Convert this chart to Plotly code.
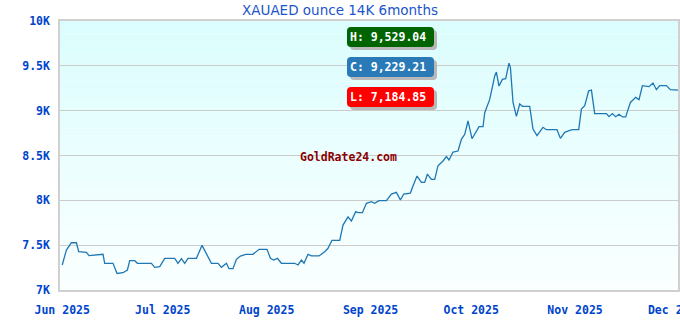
import plotly.graph_objects as go
import pandas as pd

# ---- data (day offsets from 2025-06-01, price AED) ----
days = [0.0, 1.25, 2.74, 4.24, 4.92, 7.22, 8.0, 12.17, 12.68, 15.16, 16.35, 18.14,
        19.45, 20.14, 21.63, 22.43, 26.61, 27.6, 29.09, 30.58, 33.56, 34.55, 35.56,
        36.55, 37.53, 40.04, 41.71, 44.51, 46.48, 47.49, 48.99, 49.76, 50.95, 51.97,
        53.16, 54.74, 56.92, 58.71, 61.1, 62.11, 63.1, 64.2, 65.39, 69.36, 70.35,
        71.36, 72.14, 73.33, 74.34, 76.61, 78.31, 79.3, 80.49, 82.79, 83.77, 85.26,
        86.28, 87.56, 88.25, 89.56, 90.75, 92.24, 93.23, 94.51, 96.72, 98.21, 99.7,
        100.89, 101.88, 103.88, 104.65, 105.85, 107.16, 108.14, 108.95, 110.14,
        111.13, 112.11, 113.6, 114.62, 115.39, 116.59, 118.08, 119.09, 120.08,
        121.06, 122.26, 123.57, 124.35, 125.54, 126.05, 127.54, 129.03, 129.53,
        130.31, 131.32, 132.31, 133.29, 133.71, 134.49, 135.5, 136.49, 137.29,
        139.47, 140.45, 141.65, 143.44, 144.45, 147.61, 148.63, 149.91, 151.19,
        152.21, 154.09, 154.89, 155.88, 157.07, 157.88, 158.86, 162.35, 163.13,
        164.14, 165.13, 166.11, 167.13, 168.11, 169.51, 171.09, 172.08, 173.09,
        175.06, 176.25, 177.27, 178.25, 180.25, 181.44, 182.43, 183.71]
values = [7279, 7446, 7527, 7527, 7427, 7420, 7383, 7398, 7298, 7298, 7184.85, 7193,
          7223, 7327, 7327, 7298, 7298, 7253, 7260, 7353, 7353, 7298, 7350,
          7298, 7353, 7353, 7498, 7298, 7298, 7253, 7298, 7238, 7238, 7342,
          7379, 7398, 7398, 7454, 7454, 7353, 7334, 7353, 7298, 7298, 7279,
          7334, 7298, 7398, 7380, 7380, 7427, 7465, 7554, 7554, 7724, 7816,
          7770, 7873, 7862, 7862, 7967, 7985, 7967, 7996, 7996, 8070, 8089,
          8003, 8070, 8081, 8159, 8271, 8200, 8200, 8293, 8234,
          8234, 8386, 8439, 8487, 8450, 8539, 8550, 8680, 8736,
          8885, 8687, 8773, 8821, 8821, 8977, 9126, 9387, 9431,
          9275, 9349, 9357, 9529.04, 9483, 9093, 8937, 9074, 9048,
          9048, 8795, 8721, 8814, 8788, 8788, 8691, 8758, 8777,
          8788, 8788, 9018, 9055, 9222, 9230, 8967, 8967, 8933,
          8967, 8933, 8959, 8930, 8930, 9092, 9148, 9122, 9279,
          9268, 9308, 9234, 9279, 9279, 9234, 9234, 9229.21]

high_value = 9529.04
close_value = 9229.21
low_value = 7184.85

y_tickvals = [7000, 7500, 8000, 8500, 9000, 9500, 10000]
y_ticktext = ["7K", "7.5K", "8K", "8.5K", "9K", "9.5K", "10K"]
x_tickvals = ["2025-06-01", "2025-07-01", "2025-08-01", "2025-09-01",
              "2025-10-01", "2025-11-01", "2025-12-01"]
x_ticktext = ["Jun 2025", "Jul 2025", "Aug 2025", "Sep 2025",
              "Oct 2025", "Nov 2025", "Dec 2025"]

start = pd.Timestamp("2025-06-01")
dates = start + pd.to_timedelta(days, unit="D")

# ---- layout geometry (pixels) ----
W, H = 680, 320
L, R, T, B = 60, 2, 21, 30
PW, PH = W - L - R, H - T - B


def px_x(px):
    return (px - L) / PW


def px_y(py):
    return (H - B - py) / PH


def rounded_path(x0, y0, x1, y1, r=4):
    pts = [
        ("M", [(x0 + r, y0)]),
        ("L", [(x1 - r, y0)]),
        ("Q", [(x1, y0), (x1, y0 + r)]),
        ("L", [(x1, y1 - r)]),
        ("Q", [(x1, y1), (x1 - r, y1)]),
        ("L", [(x0 + r, y1)]),
        ("Q", [(x0, y1), (x0, y1 - r)]),
        ("L", [(x0, y0 + r)]),
        ("Q", [(x0, y0), (x0 + r, y0)]),
    ]
    s = ""
    for cmd, ps in pts:
        s += cmd + " " + " ".join(f"{px_x(a):.5f},{px_y(b):.5f}" for a, b in ps) + " "
    return s + "Z"


fig = go.Figure()
fig.add_trace(go.Scatter(x=dates, y=values, mode="lines",
                         line=dict(color="#1f77b4", width=1.3),
                         hoverinfo="skip", showlegend=False))

shapes = []
# gradient background
n = 40
top = (219, 253, 253)
bot = (250, 255, 255)
for i in range(n):
    t = i / (n - 1)
    c = tuple(round(top[k] + (bot[k] - top[k]) * t) for k in range(3))
    shapes.append(dict(type="rect", xref="paper", yref="paper", x0=0, x1=1,
                       y0=1 - (i + 1) / n, y1=1 - i / n, line=dict(width=0),
                       fillcolor=f"rgb{c}", layer="below"))

boxes = [
    (f"H: {high_value:,.2f}", "#006400", 27),
    (f"C: {close_value:,.2f}", "#2a7ab8", 57),
    (f"L: {low_value:,.2f}", "#ff0000", 87),
]
annotations = []
for text, color, ytop in boxes:
    x0, x1, y0, y1 = 347, 434, ytop, ytop + 20
    shapes.append(dict(type="path", xref="paper", yref="paper",
                       path=rounded_path(x0 + 3, y0 + 3, x1 + 3, y1 + 3),
                       fillcolor="#b8b8b8", line=dict(width=0), layer="above"))
    shapes.append(dict(type="path", xref="paper", yref="paper",
                       path=rounded_path(x0, y0, x1, y1),
                       fillcolor=color, line=dict(width=0), layer="above"))
    annotations.append(dict(xref="paper", yref="paper", x=px_x(388), y=px_y(y0 + 10),
                            text=text, showarrow=False, xanchor="center", yanchor="middle",
                            font=dict(family="DejaVu Sans Mono", size=11.5,
                                      color="white", weight="bold")))

annotations.append(dict(xref="paper", yref="paper", x=px_x(348), y=px_y(157),
                        text="GoldRate24.com", showarrow=False, xanchor="center",
                        yanchor="middle",
                        font=dict(family="DejaVu Sans Mono", size=11.5,
                                  color="#8b0000", weight="bold")))

fig.update_layout(
    width=W, height=H,
    margin=dict(l=L, r=R, t=T, b=B),
    paper_bgcolor="white",
    plot_bgcolor="white",
    title=dict(text="XAUAED ounce 14K 6months", x=0.5, xanchor="center",
               y=1 - 10 / H, yanchor="middle",
               font=dict(family="DejaVu Sans", size=13.5, color="#2255cc")),
    shapes=shapes,
    annotations=annotations,
    showlegend=False,
)

tick_font = dict(family="DejaVu Sans Mono", size=11.5, color="#0044cc", weight="bold")
fig.update_xaxes(
    range=[start - pd.Timedelta(days=0.66), start + pd.Timedelta(days=183.71)],
    tickvals=x_tickvals, ticktext=x_ticktext, tickfont=tick_font,
    showgrid=False, showline=True, mirror=True, linecolor="#d0d0d0", linewidth=1.5,
    ticks="", ticklabelstandoff=8, zeroline=False, ticklabeloverflow="allow",
    automargin=False,
)
fig.update_yaxes(
    range=[7000, 10000],
    tickvals=y_tickvals, ticktext=y_ticktext, tickfont=tick_font,
    showgrid=True, gridcolor="#cccccc", gridwidth=1,
    showline=True, mirror=True, linecolor="#d0d0d0", linewidth=1.5,
    ticks="", ticklabelstandoff=6, zeroline=False, automargin=False,
)

fig.write_html("out.html")
